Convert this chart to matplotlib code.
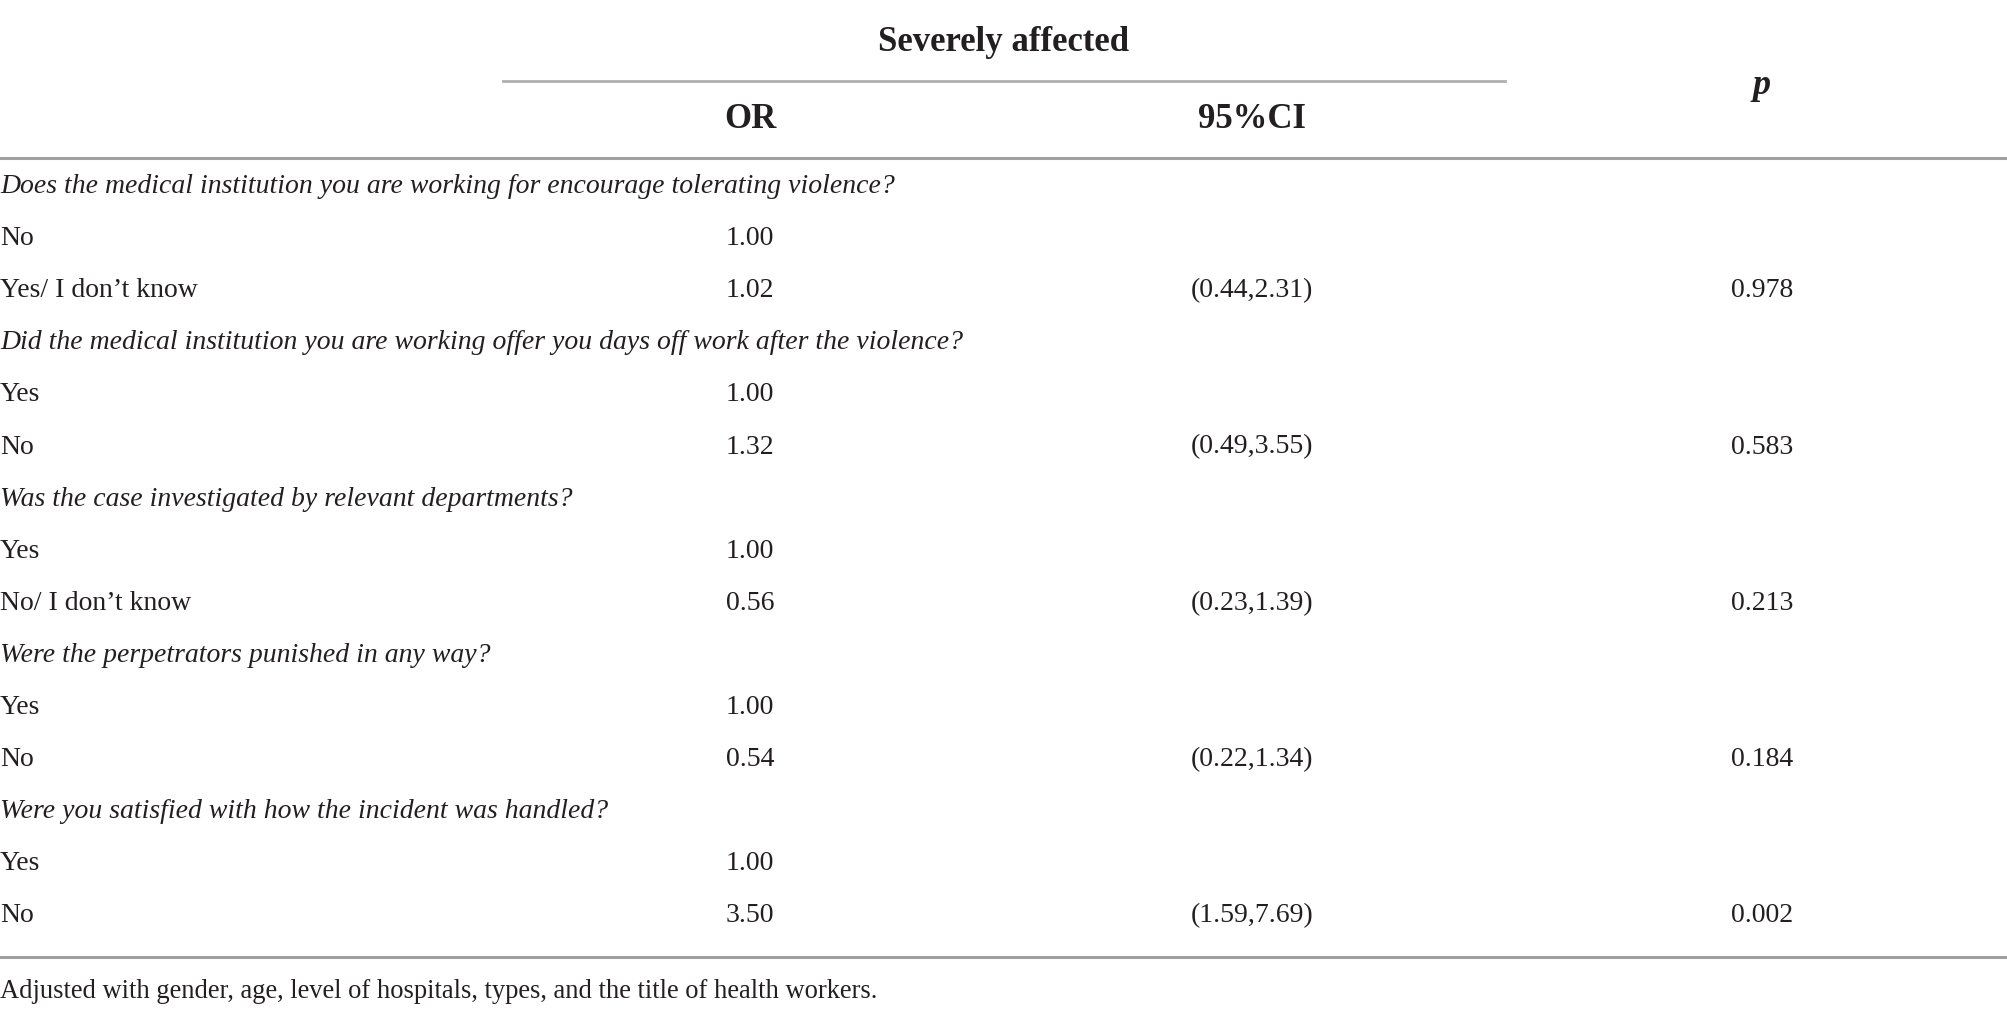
import matplotlib.pyplot as plt

questions = [
    "Does the medical institution you are working for encourage tolerating violence?",
    "Did the medical institution you are working offer you days off work after the violence?",
    "Was the case investigated by relevant departments?",
    "Were the perpetrators punished in any way?",
    "Were you satisfied with how the incident was handled?",
]
levels = [
    ["No", "Yes/ I don\u2019t know"],
    ["Yes", "No"],
    ["Yes", "No/ I don\u2019t know"],
    ["Yes", "No"],
    ["Yes", "No"],
]
odds = [["1.00", "1.02"], ["1.00", "1.32"], ["1.00", "0.56"], ["1.00", "0.54"], ["1.00", "3.50"]]
ci = [["", "(0.44,2.31)"], ["", "(0.49,3.55)"], ["", "(0.23,1.39)"], ["", "(0.22,1.34)"], ["", "(1.59,7.69)"]]
pvals = [["", "0.978"], ["", "0.583"], ["", "0.213"], ["", "0.184"], ["", "0.002"]]
note = "Adjusted with gender, age, level of hospitals, types, and the title of health workers."

plt.rcParams['font.family'] = ['Liberation Serif', 'DejaVu Serif']
fs = 20
col = '#231f20'

fig = plt.figure(figsize=(20.08, 10.12), dpi=100)
ax = fig.add_axes([0, 0, 1, 1])
ax.set_xlim(0, 2008)
ax.set_ylim(1012, 0)
ax.axis('off')

x_or, x_ci, x_p = 750, 1252, 1762

# header
ax.text(1004, 42, "Severely affected", ha='center', va='center', fontsize=25, fontweight='bold', color=col)
ax.plot([503, 1505], [82, 82], color='#b0b0b0', lw=2.0)
ax.text(x_or, 119, "OR", ha='center', va='center', fontsize=25, fontweight='bold', color=col)
ax.text(x_ci, 119, "95%CI", ha='center', va='center', fontsize=25, fontweight='bold', color=col)
ax.text(x_p, 85, "p", ha='center', va='center', fontsize=26, fontweight='bold', style='italic', color=col)
ax.plot([0, 2008], [159, 159], color='#a0a0a0', lw=2.2)

y = 186.5
step = 52.1
for i, q in enumerate(questions):
    ax.text(0, y, q, ha='left', va='center', fontsize=fs, style='italic', color=col)
    y += step
    for j in range(2):
        ax.text(0, y, levels[i][j], ha='left', va='center', fontsize=fs, color=col)
        ax.text(x_or, y, odds[i][j], ha='center', va='center', fontsize=fs, color=col)
        ax.text(x_ci, y, ci[i][j], ha='center', va='center', fontsize=fs, color=col)
        ax.text(x_p, y, pvals[i][j], ha='center', va='center', fontsize=fs, color=col)
        y += step

ax.plot([0, 2008], [958, 958], color='#a0a0a0', lw=2.2)
ax.text(0, 992, note, ha='left', va='center', fontsize=19.1, color=col)

fig.savefig('out.png', dpi=100)
